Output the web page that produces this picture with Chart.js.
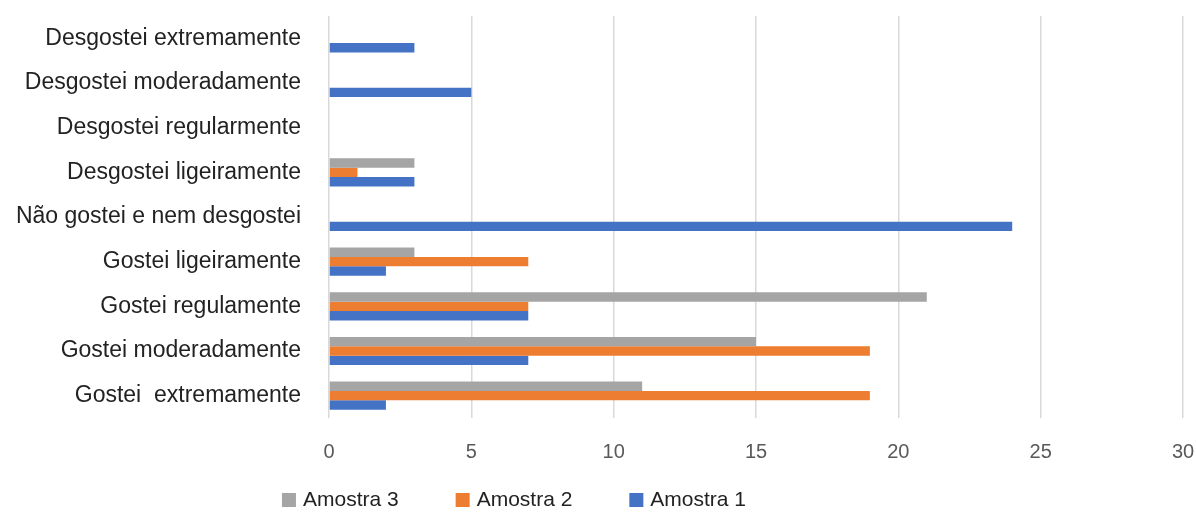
<!DOCTYPE html>
<html>
<head>
<meta charset="utf-8">
<script src="https://cdn.jsdelivr.net/npm/chart.js@4/dist/chart.umd.min.js"></script>
<style>
  html, body { margin: 0; padding: 0; background: #ffffff; }
  #wrap { width: 1196px; height: 512px; }
</style>
</head>
<body>
<div id="wrap"><canvas id="c" width="1196" height="512"></canvas></div>
<script>
// Hedonic scale categories (top to bottom)
const categories = [
  'Desgostei extremamente',
  'Desgostei moderadamente',
  'Desgostei regularmente',
  'Desgostei ligeiramente',
  'Não gostei e nem desgostei',
  'Gostei ligeiramente',
  'Gostei regulamente',
  'Gostei moderadamente',
  'Gostei  extremamente'
];

// Number of responses per sample
const amostra3 = [0, 0, 0, 3, 0, 3, 21, 15, 11];
const amostra2 = [0, 0, 0, 1, 0, 7, 7, 19, 19];
const amostra1 = [3, 5, 0, 3, 24, 2, 7, 7, 2];

const xTicks = [0, 5, 10, 15, 20, 25, 30];

const COLORS = { a3: '#A5A5A5', a2: '#ED7D31', a1: '#4472C4' };
const FONT = "'Liberation Sans', Arial, sans-serif";

// Remove the automatic label overhang padding so the plot area is fixed
function noOverhang(s) {
  s.paddingLeft = 0; s.paddingRight = 0; s.paddingTop = 0; s.paddingBottom = 0;
}

// Legend drawn along the bottom, one square + label per dataset
const bottomLegend = {
  id: 'bottomLegend',
  afterDraw(chart) {
    const ctx = chart.ctx;
    const items = chart.data.datasets;
    const box = 14, gapText = 7, gapItem = 57, size = 21;
    ctx.save();
    ctx.font = size + 'px ' + FONT;
    ctx.textBaseline = 'middle';
    const widths = items.map(d => box + gapText + ctx.measureText(d.label).width);
    const total = widths.reduce((a, b) => a + b, 0) + gapItem * (items.length - 1);
    let x = 514 - total / 2;
    const y = 500;
    items.forEach((d, i) => {
      ctx.fillStyle = d.backgroundColor;
      ctx.fillRect(x, y - box / 2, box, box);
      ctx.fillStyle = '#222222';
      ctx.fillText(d.label, x + box + gapText, y);
      x += widths[i] + gapItem;
    });
    ctx.restore();
  }
};

new Chart(document.getElementById('c'), {
  type: 'bar',
  data: {
    labels: categories,
    datasets: [
      { label: 'Amostra 3', data: amostra3, backgroundColor: COLORS.a3 },
      { label: 'Amostra 2', data: amostra2, backgroundColor: COLORS.a2 },
      { label: 'Amostra 1', data: amostra1, backgroundColor: COLORS.a1 }
    ]
  },
  options: {
    indexAxis: 'y',
    responsive: false,
    animation: false,
    devicePixelRatio: 1,
    layout: { padding: { top: 16, right: 13, bottom: 44, left: 0 } },
    datasets: { bar: { categoryPercentage: 0.63, barPercentage: 1.0, borderWidth: 0 } },
    plugins: {
      legend: { display: false },
      tooltip: { enabled: false }
    },
    scales: {
      x: {
        min: 0,
        max: 30,
        afterBuildTicks: (s) => { s.ticks = xTicks.map(v => ({ value: v })); },
        afterFit: (s) => { s.height = 50; noOverhang(s); },
        grid: { color: '#D9D9D9', lineWidth: 1.5, drawTicks: false },
        border: { display: false },
        ticks: {
          padding: 22,
          color: '#595959',
          font: { family: FONT, size: 20 }
        }
      },
      y: {
        afterFit: (s) => { s.width = 329; noOverhang(s); },
        grid: { display: false, drawTicks: false },
        border: { display: false },
        ticks: {
          padding: 28,
          color: '#222222',
          font: { family: FONT, size: 23 }
        }
      }
    }
  },
  plugins: [bottomLegend]
});
</script>
</body>
</html>
